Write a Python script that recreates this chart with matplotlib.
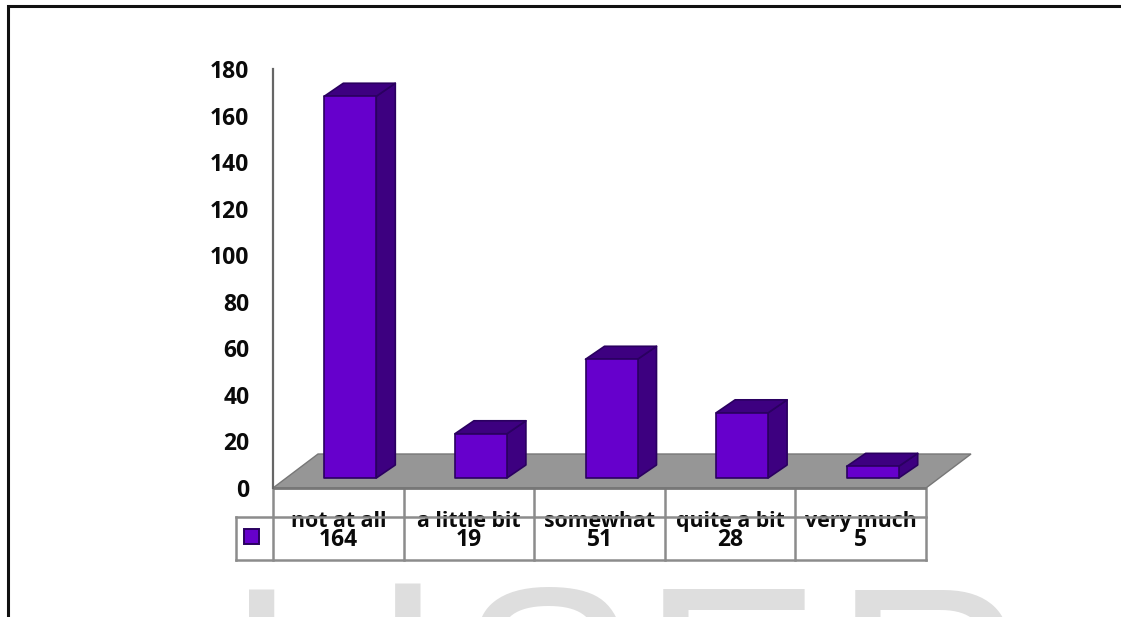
import matplotlib
matplotlib.use('Agg')
import matplotlib.pyplot as plt
from matplotlib.patches import Polygon, Rectangle

categories = ['not at all', 'a little bit', 'somewhat', 'quite a bit', 'very much']
values = [164, 19, 51, 28, 5]
y_ticks = [0, 20, 40, 60, 80, 100, 120, 140, 160, 180]
watermark = [('I', 224, 'Liberation Sans'), ('J', 292, 'Roboto'), ('S', 457, 'Liberation Sans'),
             ('E', 641, 'Liberation Sans'), ('R', 833, 'Liberation Sans')]

W, H = 1121, 617
FONT = 'Open Sans'
FS_NUM = 16.5
FS_CAT = 15.3
FRONT = '#6600CC'
SIDE = '#3D0080'
EDGE = '#2A0060'
GRID = '#8C8C8C'
FLOOR = '#969696'

fig = plt.figure(figsize=(W / 100, H / 100), dpi=100)
bg = fig.add_axes([0, 0, 1, 1], zorder=0)
bg.set_xlim(0, W); bg.set_ylim(H, 0); bg.axis('off')

# watermark and page frame
for ch, x, fam in watermark:
    bg.text(x, 776, ch, fontsize=195, family=fam,
            color='#DEDEDE', ha='left', va='baseline')
bg.plot([8, 8, W], [H, 6, 6], color='#111111', lw=2.2, solid_joinstyle='miter')

L, R, T, B = 273, 926, 69, 488
ax = fig.add_axes([L / W, 1 - B / H, (R - L) / W, (B - T) / H], zorder=1)
ax.set_xlim(0, len(categories)); ax.set_ylim(0, y_ticks[-1])
ax.patch.set_alpha(0)
for s in ['top', 'right', 'bottom']:
    ax.spines[s].set_visible(False)
ax.spines['left'].set_color('#666666'); ax.spines['left'].set_linewidth(1.6)
ax.set_xticks([])
ax.set_yticks(y_ticks)
ax.tick_params(axis='y', length=0, pad=17)
for lab in ax.get_yticklabels():
    lab.set_fontfamily(FONT); lab.set_fontweight('bold'); lab.set_fontsize(FS_NUM); lab.set_color('#0a0a0a')

px = len(categories) / (R - L)
py = y_ticks[-1] / (B - T)

# floor
ax.add_patch(Polygon([(0, 0), (5, 0), (5 + 45 * px, 34 * py), (45 * px, 34 * py)],
                     closed=True, fc=FLOOR, ec='#777777', lw=1, clip_on=False, zorder=1))
ax.plot([0, 5], [0, 0], color='#777777', lw=2, clip_on=False, zorder=2, solid_capstyle='butt')

# 3-D bars
bw = 52 * px
dx, dy = 19 * px, 13 * py
ox, oy = 12 * px, 10 * py
for i, v in enumerate(values):
    x0 = i + 0.5 + ox - bw / 2
    x1 = x0 + bw
    y0, y1 = oy, oy + v
    kw = dict(closed=True, ec=EDGE, lw=1.2, clip_on=False, zorder=3, joinstyle='round')
    ax.add_patch(Polygon([(x1, y0), (x1 + dx, y0 + dy), (x1 + dx, y1 + dy), (x1, y1)], fc=SIDE, **kw))
    ax.add_patch(Polygon([(x0, y1), (x1, y1), (x1 + dx, y1 + dy), (x0 + dx, y1 + dy)], fc=SIDE, **kw))
    ax.add_patch(Polygon([(x0, y0), (x1, y0), (x1, y1), (x0, y1)], fc=FRONT, **kw))

# data table
top_row, mid_row, bot_row = 488, 517, 560
cell_x = [L + i * (R - L) / len(categories) for i in range(len(categories) + 1)]
line = dict(color=GRID, lw=1.8, zorder=4, solid_capstyle='projecting')
bg.plot([236, R], [mid_row, mid_row], **line)
bg.plot([236, R], [bot_row, bot_row], **line)
bg.plot([236, 236], [mid_row, bot_row], **line)
for x in cell_x:
    bg.plot([x, x], [top_row, bot_row], **line)
for i, (c, v) in enumerate(zip(categories, values)):
    xc = (cell_x[i] + cell_x[i + 1]) / 2
    bg.text(xc, 527, c, ha='center', va='baseline', family=FONT, weight='bold', fontsize=FS_CAT, color='#0a0a0a', zorder=3)
    bg.text(xc, 546, str(v), ha='center', va='baseline', family=FONT, weight='bold', fontsize=FS_NUM, color='#0a0a0a', zorder=3)
bg.add_patch(Rectangle((244, 529), 15, 15, fc=FRONT, ec=EDGE, lw=1.4, zorder=3))

fig.savefig('out.png', dpi=100)
